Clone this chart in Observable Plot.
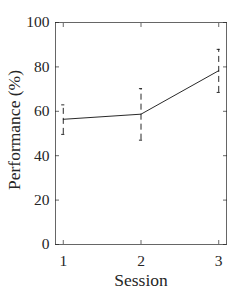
<!DOCTYPE html>
<html>
<head>
<meta charset="utf-8">
<script src="https://cdn.jsdelivr.net/npm/d3@7"></script>
<script src="https://cdn.jsdelivr.net/npm/@observablehq/plot@0.6"></script>
<style>
  body { margin: 0; background: #fff; }
  #chart svg { display: block; }
</style>
</head>
<body>
<div id="chart"></div>
<script>
const sessions = [1, 2, 3];
const means = [56.4, 58.7, 78.3];
const lows = [49.6, 47.0, 68.5];
const highs = [62.9, 70.2, 87.9];
const yTicks = [0, 20, 40, 60, 80, 100];

const data = sessions.map((s, i) => ({s, m: means[i], lo: lows[i], hi: highs[i]}));
const ink = "#262626";
const serif = "Liberation Serif";
const capHalf = 0.02;

const chart = Plot.plot({
  width: 249,
  height: 291,
  marginLeft: 55,
  marginRight: 23,
  marginTop: 22,
  marginBottom: 47,
  style: {fontSize: "15.5px", fontFamily: serif, color: ink, background: "#fff"},
  x: {domain: [0.9, 3.1]},
  y: {domain: [0, 100]},
  marks: [
    Plot.axisY(yTicks, {anchor: "left", tickSize: -4, tickPadding: 10, label: null, stroke: ink, strokeWidth: 0.7, fontFamily: serif}),
    Plot.axisY(yTicks, {anchor: "right", tickSize: -4, tickFormat: () => "", label: null, stroke: ink, strokeWidth: 0.7}),
    Plot.axisX(sessions, {anchor: "bottom", tickSize: -4, tickPadding: 14, label: null, stroke: ink, strokeWidth: 0.7, fontFamily: serif}),
    Plot.axisX(sessions, {anchor: "top", tickSize: -4, tickFormat: () => "", label: null, stroke: ink, strokeWidth: 0.7}),
    Plot.frame({stroke: ink, strokeWidth: 0.7}),
    Plot.ruleX(data, {x: "s", y1: "lo", y2: "hi", stroke: "#111", strokeDasharray: "6,4", strokeWidth: 0.9}),
    Plot.ruleY(data, {y: "hi", x1: d => d.s - capHalf, x2: d => d.s + capHalf, stroke: "#111", strokeWidth: 0.9}),
    Plot.ruleY(data, {y: "lo", x1: d => d.s - capHalf, x2: d => d.s + capHalf, stroke: "#111", strokeWidth: 0.9}),
    Plot.line(data, {x: "s", y: "m", stroke: "#111", strokeWidth: 0.9}),
    Plot.text(["Session"], {frameAnchor: "bottom", dy: 36, lineAnchor: "middle", fontSize: 17.5, fill: ink, fontFamily: serif}),
    Plot.text(["Performance (%)"], {frameAnchor: "left", textAnchor: "middle", dx: -41, dy: -3.5, rotate: -90, fontSize: 17.5, fill: ink, fontFamily: serif})
  ]
});
document.getElementById("chart").appendChild(chart);
</script>
</body>
</html>
